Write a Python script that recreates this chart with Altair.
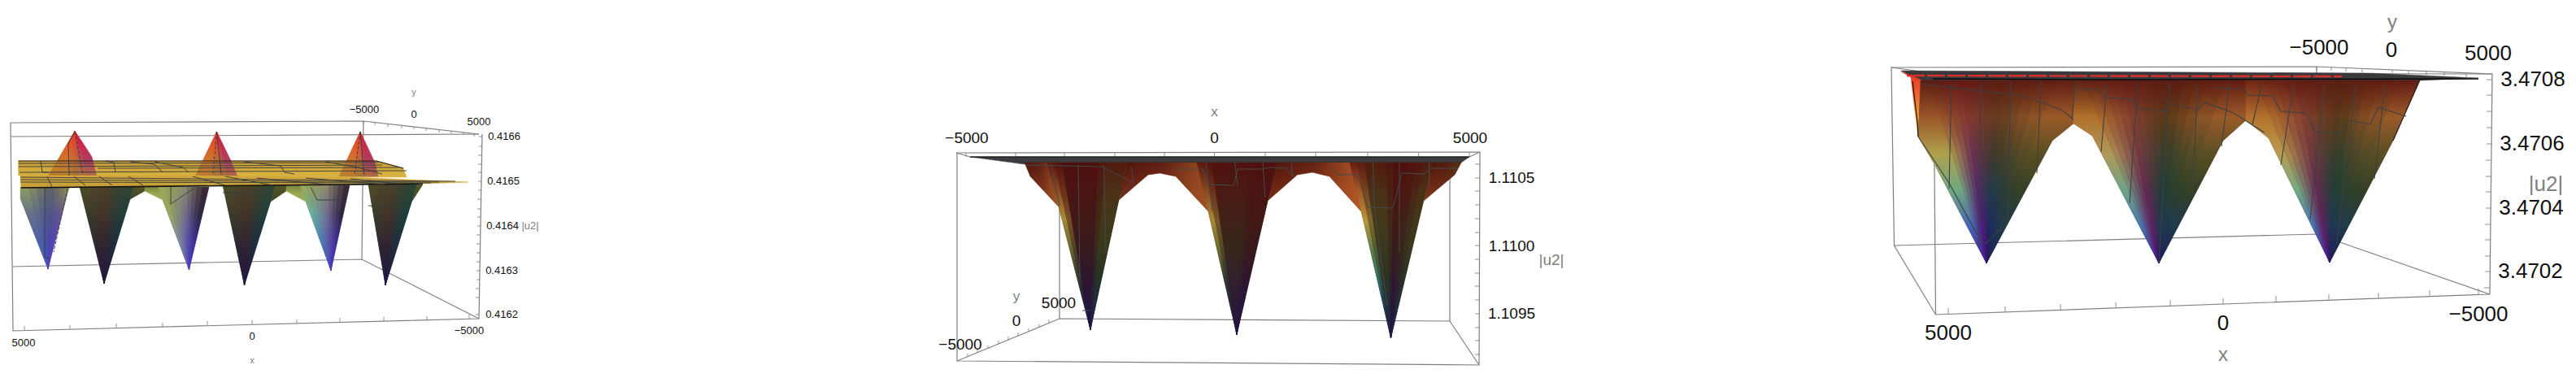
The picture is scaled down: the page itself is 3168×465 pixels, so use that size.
import altair as alt
import pandas as pd

font = 'Liberation Sans'

ramps = {
    # panel 1
    'gold': ['#c49c34', '#d2aa3c', '#dab240'],
    'gold2': ['#d2a83c', '#cca43a', '#c49c36'],
    'up_l': ['#e5352a', '#e2582a', '#cc7a2e', '#b87c30'],
    'up_m': ['#dc3a2c', '#d05038', '#b86a3a', '#a8703a'],
    'up_r': ['#d91c30', '#c42a52', '#b0405e', '#b06a44'],
    'blue_l': ['#8c9c5c', '#66708a', '#4e62a8', '#4a5cc0'],
    'blue_m': ['#5c5c68', '#4a5488', '#4648a8', '#4a40c0'],
    'blue_r': ['#8c8c4c', '#66568e', '#5a44b0', '#5838b8'],
    'dark_l': ['#4c4c28', '#39382a', '#2a2436', '#1e1640'],
    'dark_m': ['#4c4028', '#40302a', '#2e2030', '#241440'],
    'dark_r': ['#2e4632', '#1e3c3c', '#1e2a40', '#1c1640'],
    'olive': ['#54542a', '#4a4c24', '#3c4024'],
    'light_l': ['#9aa852', '#94a660', '#7c8a9c', '#5c5cb8'],
    'light_t': ['#9aa852', '#66b0a0', '#4c80b0', '#4a44c0'],
    'light_m': ['#8c8c6c', '#706890', '#5c50a8', '#4c3cb8'],
    'light_r': ['#3c2a34', '#2e2640', '#3a3098', '#4438b8'],
    'hump1': ['#7c8440', '#98a850', '#a0ac58'],
    # panel 2
    'e': ['#5c1610', '#8c4a20', '#a88836', '#6a6a30', '#34402c', '#22263c', '#1c1a3e'],
    'e2': ['#681e12', '#a85a28', '#b89438', '#5c7c48', '#347068', '#203858', '#1c1a40'],
    'm': ['#4e100e', '#4a1412', '#421816', '#381a1c', '#30162c', '#26143c', '#1a1448'],
    'm2': ['#50120e', '#4a1a12', '#402218', '#36261a', '#32202c', '#2a1836', '#281440'],
    'g': ['#521a0e', '#4a3018', '#42381a', '#38381e', '#2a3424', '#202c3c', '#1c1c44'],
    'p2_hump': ['#4e120e', '#6a2412', '#7a3816'],
    # panel 3
    'p3_sliver': ['#e0301f', '#f06030', '#f09a30', '#d8b040'],
    'p3_l1': ['#5a1c12', '#9a5628', '#b0a04c', '#70a880', '#4464b0', '#401890'],
    'p3_l2': ['#5e2014', '#b0702c', '#b09858', '#6ca488', '#4874ac', '#4a1a88'],
    'p3_l3': ['#702414', '#b4722c', '#b89c50', '#74aa80', '#4870b0', '#481a90'],
    'p3_m': ['#661a14', '#843830', '#6e3052', '#542a68', '#561a7c', '#500f80'],
    'p3_m2': ['#641c14', '#84402e', '#743a42', '#642a50', '#60205c', '#500f74'],
    'p3_r': ['#5a1c12', '#643c1e', '#3c3a28', '#1e3c46', '#1a2a5c', '#2a1560'],
    'p3_r2': ['#5a1c12', '#583818', '#343e2a', '#1e3e34', '#1c3852', '#201a60'],
    'p3_s': ['#621c12', '#9a5a28', '#5a4e24', '#344024', '#1e3a4c', '#1e2050'],
}

p1_plate_back = ([22.5, 463, 496, 500, 22.5], [198, 198, 207, 218, 216], 'gold')
p1_up = [
    dict(top=[59, 67, 75, 83, 91, 99, 107, 119], tip=(92, 161), base=217, left=[], right=[(113, 193)], keys=['up_l', 'up_l', 'up_m', 'up_r']),
    dict(top=[240, 248, 256, 264, 272, 280, 292], tip=(266.5, 162), base=217, left=[], right=[(285, 200)], keys=['up_l', 'up_l', 'up_m', 'up_r']),
    dict(top=[417, 424, 431, 438, 445, 452, 465], tip=(443, 162), base=217, left=[], right=[(461, 200)], keys=['up_l', 'up_l', 'up_m', 'up_r']),
]
p1_down = [
    dict(top=[25, 35, 45, 55, 62, 68, 74, 80, 85], tip=(59, 331), base=230, left=[(25, 244)], right=[], keys=['blue_l', 'blue_m', 'blue_r']),
    dict(top=[98, 105, 112, 119, 126, 133, 140, 148, 156, 164.6], tip=(128, 349), base=230, left=[], right=[], keys=['dark_l', 'dark_m', 'dark_r']),
    dict(top=[194, 202, 210, 218, 224, 230, 236, 242, 249, 257], tip=(232.5, 332), base=230, left=[], right=[], keys=['light_l', 'light_m', 'light_r']),
    dict(top=[274, 281, 288, 295, 302, 309, 316, 323, 331, 339], tip=(300.5, 351), base=228, left=[], right=[], keys=['dark_l', 'dark_m', 'dark_r']),
    dict(top=[368.7, 376, 384, 392, 398, 404, 410, 416, 423, 430], tip=(407, 333), base=228, left=[], right=[], keys=['light_t', 'light_m', 'light_r']),
    dict(top=[453, 460, 467, 474, 481, 488, 495, 502, 513], tip=(474, 351), base=227, left=[], right=[], keys=['dark_l', 'dark_m', 'dark_r']),
]
p1_shoulders = [
    ([164.6, 160, 178, 178], [230, 245, 235, 230], 'olive'),
    ([178, 194, 200, 178], [230, 230, 246, 235], 'hump1'),
    ([339, 333, 352, 352], [228, 248, 235, 228], 'olive'),
    ([352, 368.7, 376, 352], [228, 228, 248, 235], 'hump1'),
    ([513, 507, 520], [227, 247, 227], 'olive'),
]
p1_plate_front = ([25, 240, 435, 576, 520, 26], [216, 216, 218, 224, 226, 231], 'gold2')

p2_plate = ([1193, 1807, 1797, 1260], [193, 193, 200, 202])
p2_spikes = [
    dict(top=[1288, 1297, 1306, 1315, 1324, 1333, 1342, 1351, 1360, 1368, 1377, 1386], tip=(1341, 406), base=200, left=[], right=[], keys=['e', 'm', 'm', 'm', 'g', 'g']),
    dict(top=[1472, 1481, 1490, 1499, 1508, 1517, 1526, 1535, 1544, 1553, 1561, 1570], tip=(1521, 412), base=200, left=[], right=[], keys=['e', 'm2', 'm2', 'm2', 'm', 'm']),
    dict(top=[1660, 1669, 1678, 1687, 1696, 1705, 1714, 1723, 1732, 1741, 1751, 1762], tip=(1710.5, 416), base=200, left=[], right=[], keys=['e2', 'g', 'g', 'm', 'm2', 'g']),
]
p2_humps = [
    ([1260, 1288, 1302.6, 1267], [200, 200, 255, 217], '#a85e2a'),
    ([1386, 1472, 1486, 1446, 1426.5, 1412, 1376], [200, 200, 260, 217, 213, 215, 246], '#a85a28'),
    ([1570, 1660, 1674, 1635, 1614, 1595.5, 1559], [200, 200, 260, 217, 212, 215, 247], '#c0602a'),
    ([1762, 1797, 1789, 1751], [200, 200, 215, 247], '#5a3816'),
]

p3_plate = ([2338, 2915, 3048, 2976, 2362], [87, 90, 96, 99, 100])
p3_sliver = ([2338, 2362, 2359, 2354, 2350], [88, 98, 168, 130, 95], 'p3_sliver')
p3_spikes = [
    dict(top=[2362, 2372, 2382, 2392, 2402, 2412, 2422, 2432, 2442, 2452, 2464, 2478, 2492, 2508, 2528, 2550], tip=(2443, 324), base=99,
         left=[(2359, 168), (2379.5, 203)], right=[(2550, 152), (2524, 173)], keys=['p3_l1', 'p3_m', 'p3_r', 'p3_s']),
    dict(top=[2550, 2562, 2574, 2586, 2598, 2610, 2622, 2634, 2646, 2658, 2670, 2684, 2698, 2714, 2738, 2762], tip=(2655, 324), base=99,
         left=[(2550, 152), (2573, 167)], right=[(2762, 148), (2734, 173)], keys=['p3_l2', 'p3_m2', 'p3_r2', 'p3_s']),
    dict(top=[2762, 2774, 2786, 2798, 2810, 2822, 2834, 2846, 2858, 2870, 2882, 2896, 2910, 2926, 2950, 2976], tip=(2865, 323), base=99,
         left=[(2762, 148), (2790, 170)], right=[(2943, 173)], keys=['p3_l3', 'p3_m2', 'p3_r2', 'p3_s']),
]

# frame edges, back ones first
p1_box = [
    ([13, 447, 589], [151, 149, 165]),
    ([14, 589], [168, 165]),
    ([13, 16, 589, 593, 589], [151, 407, 392, 165, 392]),
    ([15, 445, 589], [328, 319, 392]),
    ([447, 445], [149, 319]),
]
p2_box = [
    ([1177, 1177, 1819, 1820, 1176], [188, 444, 449, 187, 188]),
    ([1176, 1193, 1807, 1820], [188, 193, 193, 187]),
    ([1177, 1303, 1783, 1819], [444, 392, 395, 449]),
    ([1303, 1303], [392, 253]),
    ([1783, 1783], [395, 200]),
]
p3_box = [
    ([2329.5, 2326, 2849, 3065, 3062, 2380.5, 2329.5, 2849, 3062], [302, 83, 82, 91, 362, 387, 302, 288, 362]),
    ([2326, 2377, 3065], [83, 90, 91]),
    ([2378, 2380.5], [90, 387]),
    ([2849, 2849], [82, 288]),
]

# axis ticks: x, y of the axis end, and the offset of the free end
p1_ticks = [
    ([30, 86, 143, 200, 255, 310, 365, 418, 472, 525, 577], [406, 405, 403, 402, 400, 399, 398, 396, 395, 394, 392], 0, -5),
    ([447, 461, 477, 494, 509, 524, 540, 555, 570, 583], [149, 151, 153, 155, 156, 158, 160, 161, 163, 165], 0, 3),
    ([593, 593, 592, 592, 592, 592, 592, 591, 591, 591, 591, 590, 590, 590, 590, 590, 590, 589, 589, 589],
     [168, 180, 191, 202, 212, 223, 234, 245, 257, 267, 278, 289, 300, 311, 322, 333, 344, 355, 366, 387], -4, 0),
]
p2_ticks = [
    ([1188, 1249, 1309, 1371, 1432, 1493.5, 1556, 1618, 1682, 1744.6, 1807], [188, 188, 188, 188, 188, 188, 188, 188, 188, 188, 188], 0, 5),
    ([1820] * 15, [202, 219, 235, 252, 269, 286, 302, 319, 336, 352, 369, 386, 403, 419, 436], -6, 0),
    ([1190, 1202, 1215, 1228, 1240, 1252, 1265, 1278, 1290], [439, 434, 429, 423, 418, 413, 408, 403, 397], 0, -4),
]
p3_ticks = [
    ([2396, 2466, 2534, 2602, 2669, 2734, 2799, 2864, 2925, 2988, 3048], [386, 384, 381, 379, 376, 374, 371, 369, 367, 364, 362], 0, -7),
    ([3065, 3065, 3065, 3065, 3065, 3064, 3064, 3064, 3064, 3063, 3063, 3063, 3063, 3062],
     [98, 117, 137, 157, 177, 197, 217, 236, 256, 276, 295, 315, 334, 354], -7, 0),
    ([2849, 2867, 2885, 2905, 2942, 2962, 2984, 3006, 3033], [82, 83, 84, 85, 86, 87, 88, 89, 91], 0, 4),
]

# mesh lines on the surfaces
p1_mesh = [
    ([23, 465], [201, 200]), ([23, 470], [205, 203]), ([120, 490], [207, 206]), ([24, 500], [212, 210]),
    ([25, 560], [218, 223]), ([25, 540], [221, 224]), ([25, 530], [224, 225]),
    ([58, 64], [217, 230]), ([91, 105], [217, 228]), ([122, 138], [217, 228]), ([158, 176], [217, 228]),
    ([237, 277], [217, 228]), ([277, 336], [217, 228]), ([316, 403], [219, 227]), ([376, 474], [219, 227]),
    ([431, 490], [220, 226]),
    ([50, 52, 60], [198, 212, 212]), ([130, 140, 142], [198, 200, 212]), ([160, 190, 200], [199, 202, 212]),
    ([190, 225, 232], [199, 206, 212]), ([300, 345, 350, 362], [199, 204, 212, 214]), ([400, 440, 470], [199, 206, 214]),
    ([55, 55, 60], [230, 317, 317]), ([146, 146], [231, 252]), ([210, 210, 238], [230, 251, 232]),
    ([382, 390, 415], [230, 246, 246]), ([453, 484, 490], [253, 255, 228]), ([274, 306, 306], [237, 237, 228]),
    ([92, 84, 85], [162, 177, 216]), ([266.5, 272], [162, 215]), ([443, 448], [162, 215]),
]
p1_mesh_dashed = [
    ([92, 102], [162, 215]), ([83, 66], [232, 310]), ([443, 436], [162, 215]), ([266.5, 262], [162, 215]),
]
p2_mesh = [
    ([1261, 1355, 1391, 1376], [203, 205, 223, 243]),
    ([1446, 1479, 1486, 1517, 1522, 1554, 1561, 1582, 1590], [208, 208, 227, 228, 208, 208, 206, 207, 217]),
    ([1637, 1645, 1669, 1682, 1713, 1724, 1752, 1760, 1792], [205, 215, 215, 255, 256, 213, 214, 207, 207]),
    ([1292, 1303], [201, 253]), ([1326, 1328], [203, 345]), ([1357.5, 1360], [203, 310]), ([1391.5, 1394], [205, 230]),
    ([1483, 1491], [200, 260]), ([1518.6, 1522], [200, 228]), ([1553, 1556], [200, 243]), ([1588, 1590], [200, 217]),
    ([1688.6, 1690, 1706], [200, 255, 377]), ([1721, 1721], [200, 310]), ([1757.6, 1757.6], [200, 230]), ([1331, 1341], [382, 382]),
]
p3_mesh = [
    ([2359, 2397, 2436, 2443, 2469], [168, 225, 297, 299, 273]),
    ([2362, 2433, 2489, 2535, 2550], [103, 112, 118, 135, 147]),
    ([2555, 2581, 2589, 2622, 2629, 2663, 2670, 2703, 2711, 2747, 2772, 2785], [110, 110, 120, 122, 134, 137, 128, 135, 126, 139, 155, 163]),
    ([2724, 2760, 2765, 2795, 2805, 2836, 2847, 2877, 2887, 2915, 2925, 2959], [108, 110, 117, 118, 137, 139, 162, 164, 148, 153, 132, 143]),
    ([2400, 2397], [100, 232]), ([2436, 2433], [100, 303]), ([2473, 2469], [100, 273]), ([2510, 2505], [100, 213]),
    ([2553, 2548], [100, 147]), ([2591, 2584], [103, 187]), ([2629, 2619], [102, 250]), ([2668, 2655], [102, 323]),
    ([2703, 2696], [103, 240]), ([2742, 2732], [103, 180]), ([2782, 2770], [103, 153]), ([2821, 2805], [103, 203]),
    ([2859, 2841], [103, 270]), ([2897, 2874], [103, 300]), ([2933, 2920], [103, 220]),
]

labels_black = [
    ('5000', 29, 422, 13), ('0', 310, 414, 13), ('\u22125000', 577, 407, 13),
    ('\u22125000', 448, 135, 13), ('0', 509, 141, 13), ('5000', 589, 150, 13),
    ('0.4166', 620, 168, 13), ('0.4165', 619, 223, 13), ('0.4164', 618, 278, 13), ('0.4163', 617, 333, 13), ('0.4162', 617, 387, 13),
    ('\u22125000', 1189, 170, 19), ('0', 1493.5, 170, 19), ('5000', 1808, 170, 19),
    ('\u22125000', 1181, 424, 19), ('0', 1250, 395, 19), ('5000', 1302, 373, 19),
    ('1.1105', 1859, 219, 19), ('1.1100', 1859, 303, 19), ('1.1095', 1859, 386, 19),
    ('5000', 2396, 410, 26), ('0', 2734, 398, 26), ('\u22125000', 3048, 387, 26),
    ('\u22125000', 2852, 59, 26), ('0', 2941, 62, 26), ('5000', 3060, 66, 26),
    ('3.4708', 3115, 98, 26), ('3.4706', 3114, 177, 26), ('3.4704', 3113, 256, 26), ('3.4702', 3112, 334, 26),
]
labels_grey = [
    ('x', 310, 444, 11), ('y', 509, 114, 11), ('|u2|', 652, 278, 13),
    ('x', 1493.5, 138, 17), ('y', 1250, 365, 17), ('|u2|', 1908, 320, 19),
    ('x', 2734, 437, 24), ('y', 2942, 28, 24), ('|u2|', 3131, 227, 26),
]

sx = alt.Scale(domain=[8, 3160], nice=False, zero=False)
sy = alt.Scale(domain=[457, 8], nice=False, zero=False)
X = alt.X('x:Q', scale=sx, axis=None)
Y = alt.Y('y:Q', scale=sy, axis=None)


def frame(xs, ys):
    return pd.DataFrame({'x': xs, 'y': ys, 'i': range(len(xs))})


def mix(a, b, t):
    # mixes two #rrggbb colours
    ca = [int(a[k:k + 2], 16) for k in (1, 3, 5)]
    cb = [int(b[k:k + 2], 16) for k in (1, 3, 5)]
    return '#%02x%02x%02x' % tuple(round(p + (q - p) * t) for p, q in zip(ca, cb))


def blended(keys, t):
    # stop list for a strip at position t (0..1) across the named ramps
    pos = t * (len(keys) - 1)
    k = min(int(pos), len(keys) - 2)
    return [mix(a, b, pos - k) for a, b in zip(ramps[keys[k]], ramps[keys[k + 1]])]


def gradient(stops, across=False):
    return alt.Gradient(
        gradient='linear', x1=0, x2=1 if across else 0, y1=0, y2=0 if across else 1,
        stops=[alt.GradientStop(offset=k / (len(stops) - 1), color=c) for k, c in enumerate(stops)],
    )


def facet(xs, ys, stops, width=0.5):
    # one filled piece of a surface
    g = gradient(stops)
    return alt.Chart(frame(xs, ys)).mark_line(
        interpolate='linear-closed', fill=g, stroke=g, strokeWidth=width
    ).encode(x=X, y=Y, order='i:Q')


def glow(xs, ys, color):
    # fades in from the left across the piece
    r, g, b = [int(color[k:k + 2], 16) for k in (1, 3, 5)]
    grad = gradient(['rgba(%d,%d,%d,0)' % (r, g, b), 'rgba(%d,%d,%d,0.2)' % (r, g, b), 'rgba(%d,%d,%d,0.85)' % (r, g, b)], across=True)
    return alt.Chart(frame(xs, ys)).mark_line(
        interpolate='linear-closed', fill=grad, strokeWidth=0
    ).encode(x=X, y=Y, order='i:Q')


def spike(s):
    # a fan of strips from the top edge to the tip, colours run across the keys
    # the whole outline goes underneath so no white shows between the strips
    whole = [(s['top'][0], s['base']), (s['top'][-1], s['base'])] + s['right'] + [s['tip']] + list(reversed(s['left']))
    out = [facet([p[0] for p in whole], [p[1] for p in whole], blended(s['keys'], 0.5), width=0)]
    n = len(s['top']) - 1
    for k in range(n):
        pts = [(s['top'][k], s['base']), (s['top'][k + 1], s['base'])]
        if k == n - 1:
            pts += s['right']
        pts.append(s['tip'])
        if k == 0:
            pts += list(reversed(s['left']))
        stops = blended(s['keys'], k / max(n - 1, 1))
        out.append(facet([p[0] for p in pts], [p[1] for p in pts], stops))
    return out


def flat(xs, ys, color):
    return alt.Chart(frame(xs, ys)).mark_line(
        interpolate='linear-closed', fill=color, stroke=color, strokeWidth=0.5
    ).encode(x=X, y=Y, order='i:Q')


def path(xs, ys, color, width=1.0, dash=None, opacity=1.0):
    props = dict(color=color, strokeWidth=width, opacity=opacity)
    if dash:
        props['strokeDash'] = dash
    return alt.Chart(frame(xs, ys)).mark_line(**props).encode(x=X, y=Y, order='i:Q')


def ticks(xs, ys, dx, dy, color):
    df = pd.DataFrame({'x': xs, 'y': ys})
    df['x2'] = df['x'] + dx
    df['y2'] = df['y'] + dy
    return alt.Chart(df).mark_rule(color=color, strokeWidth=0.8).encode(x=X, y=Y, x2='x2:Q', y2='y2:Q')


def text_layer(rows, color):
    df = pd.DataFrame(rows, columns=['t', 'x', 'y', 's'])
    return alt.Chart(df).mark_text(font=font, color=color, align='center', baseline='middle').encode(
        x=X, y=Y, text='t:N', size=alt.Size('s:Q', scale=None, legend=None)
    )


layers = []
for box in (p1_box, p2_box, p3_box):
    for xs, ys in box:
        layers.append(path(xs, ys, '#7f7f7f', 1.2))
for group in (p1_ticks, p2_ticks, p3_ticks):
    for xs, ys, dx, dy in group:
        layers.append(ticks(xs, ys, dx, dy, '#777777'))

# panel 1
layers.append(facet(p1_plate_back[0], p1_plate_back[1], ramps[p1_plate_back[2]]))
for s in p1_down:
    layers.extend(spike(s))
for xs, ys, name in p1_shoulders:
    layers.append(facet(xs, ys, ramps[name]))
for s in p1_up:
    layers.extend(spike(s))
layers.append(facet(p1_plate_front[0], p1_plate_front[1], ramps[p1_plate_front[2]]))
layers.append(path([22.5, 463, 496], [198, 198, 207], '#1a1a1a', 1.2))
layers.append(path([26, 520], [231, 226], '#111111', 1.6))
for xs, ys in p1_mesh:
    layers.append(path(xs, ys, '#33393f', 0.9))
for xs, ys in p1_mesh_dashed:
    layers.append(path(xs, ys, '#33393f', 0.9, dash=[4, 2]))

# panel 2
layers.append(flat(p2_plate[0], p2_plate[1], '#3c3c40'))
for xs, ys, color in p2_humps:
    layers.append(facet(xs, ys, ramps['p2_hump']))
    layers.append(glow(xs, ys, color))
for s in p2_spikes:
    layers.extend(spike(s))
layers.append(path([1193, 1807], [193, 193], '#111111', 1.2))
for xs, ys in p2_mesh:
    layers.append(path(xs, ys, '#454a48', 1.0))

# panel 3
layers.append(flat(p3_plate[0], p3_plate[1], '#3a3a3c'))
layers.append(facet(p3_sliver[0], p3_sliver[1], ramps[p3_sliver[2]]))
for s in p3_spikes:
    layers.extend(spike(s))
layers.append(path([2345, 2880], [93, 94], '#d9302a', 2.4, dash=[22, 3]))
layers.append(path([2377, 2600, 3048], [97, 98, 97], '#0c0c0c', 1.6))
layers.append(path([2976, 2943], [98, 173], '#222222', 1.2))
layers.append(path([2352, 2358, 2359], [100, 150, 168], '#151515', 1.2))
for xs, ys in p3_mesh:
    layers.append(path(xs, ys, '#3c4044', 1.1))

layers.append(text_layer(labels_black, '#111111'))
layers.append(text_layer(labels_grey, '#808080'))

chart = alt.layer(*layers).properties(width=3152, height=449, padding=0).configure_view(stroke=None)
chart.save("out.html", embed_options={"renderer": "svg", "actions": False})
